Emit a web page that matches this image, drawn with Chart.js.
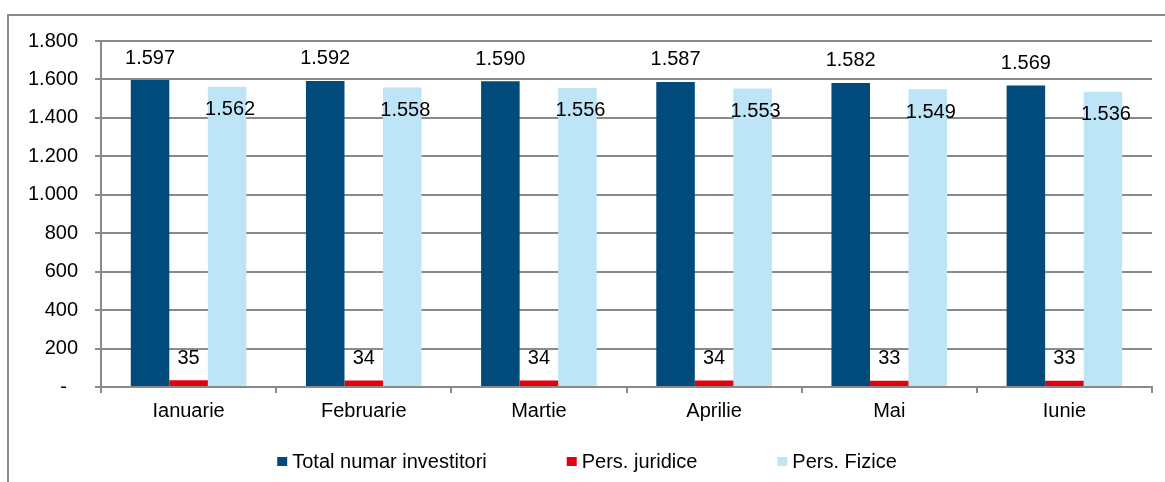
<!DOCTYPE html>
<html>
<head>
<meta charset="utf-8">
<script src="https://cdn.jsdelivr.net/npm/chart.js@4.4.1/dist/chart.umd.min.js"></script>
<style>
  html, body { margin: 0; padding: 0; background: #fff; }
  #wrap { width: 1165px; height: 482px; }
</style>
</head>
<body>
<div id="wrap"><canvas id="myChart" width="1165" height="482"></canvas></div>
<script>
const luni = ['Ianuarie', 'Februarie', 'Martie', 'Aprilie', 'Mai', 'Iunie'];
const totalInvestitori = [1597, 1592, 1590, 1587, 1582, 1569];
const persJuridice = [35, 34, 34, 34, 33, 33];
const persFizice = [1562, 1558, 1556, 1553, 1549, 1536];
const numeSerii = ['Total numar investitori', 'Pers. juridice', 'Pers. Fizice'];
const culori = ['#004a7c', '#e3000f', '#bee4f8'];
const yMax = 1800;
const yPas = 200;

const FONT = '"Liberation Sans", Arial, sans-serif';
const MARIME = 20;

function formatNumar(v) {
  if (v === 0) return '-  ';
  return String(v).replace(/\B(?=(\d{3})+(?!\d))/g, '.');
}

// chenarul exterior (doar sus si stanga se vad)
const chenar = {
  id: 'chenar',
  beforeDraw(chart) {
    const ctx = chart.ctx;
    ctx.save();
    ctx.strokeStyle = '#8a8a8a';
    ctx.lineWidth = 2;
    ctx.strokeRect(8, 15, 1300, 600);
    ctx.restore();
  }
};

// etichetele valorilor
const etichete = {
  id: 'etichete',
  afterDatasetsDraw(chart) {
    const ctx = chart.ctx;
    ctx.save();
    ctx.font = MARIME + 'px ' + FONT;
    ctx.fillStyle = '#000';
    ctx.textAlign = 'center';
    ctx.textBaseline = 'middle';
    chart.data.datasets.forEach(function(ds, i) {
      const meta = chart.getDatasetMeta(i);
      meta.data.forEach(function(bar, j) {
        const dy = i === 2 ? 23 : -22;
        ctx.fillText(formatNumar(ds.data[j]), bar.x + (i === 2 ? 3 : 0), bar.y + dy);
      });
    });
    ctx.restore();
  }
};

// legenda jos
const legenda = {
  id: 'legenda',
  afterDraw(chart) {
    const ctx = chart.ctx;
    ctx.save();
    ctx.font = MARIME + 'px ' + FONT;
    ctx.textBaseline = 'middle';
    ctx.textAlign = 'left';
    const box = 10, gapText = 5, gapItem = 80;
    const items = chart.data.datasets.map(function(ds) {
      return { text: ds.label, color: ds.backgroundColor, w: ctx.measureText(ds.label).width };
    });
    let total = 0;
    items.forEach(function(it, k) { total += box + gapText + it.w + (k ? gapItem : 0); });
    let x = 587 - total / 2;
    const y = 462;
    items.forEach(function(it) {
      ctx.fillStyle = it.color;
      ctx.fillRect(x, y - 5, box, 9);
      ctx.fillStyle = '#000';
      ctx.fillText(it.text, x + box + gapText, y);
      x += box + gapText + it.w + gapItem;
    });
    ctx.restore();
  }
};

const ctx = document.getElementById('myChart').getContext('2d');
const myChart = new Chart(ctx, {
  type: 'bar',
  data: {
    labels: luni,
    datasets: [
      { label: numeSerii[0], data: totalInvestitori, backgroundColor: culori[0] },
      { label: numeSerii[1], data: persJuridice, backgroundColor: culori[1] },
      { label: numeSerii[2], data: persFizice, backgroundColor: culori[2] }
    ]
  },
  options: {
    responsive: false,
    animation: false,
    layout: { padding: { top: 41, right: 13, left: 0, bottom: 0 } },
    datasets: {
      bar: { categoryPercentage: 0.66, barPercentage: 1 }
    },
    plugins: {
      legend: { display: false },
      tooltip: { enabled: false }
    },
    scales: {
      x: {
        offset: true,
        grid: { drawOnChartArea: false, drawTicks: true, tickLength: 6, color: '#8a8a8a', lineWidth: 2, offset: true },
        border: { color: '#8a8a8a', width: 2 },
        ticks: { color: '#000', font: { size: MARIME, family: FONT }, padding: 6 },
        afterFit(scale) { scale.height = 95; }
      },
      y: {
        min: 0,
        max: yMax,
        ticks: {
          stepSize: yPas,
          color: '#000',
          font: { size: MARIME, family: FONT },
          padding: 17,
          callback: function(v) { return formatNumar(v); }
        },
        grid: { color: '#8a8a8a', lineWidth: 2, tickLength: 6 },
        border: { color: '#8a8a8a', width: 2 },
        afterFit(scale) { scale.width = 101; }
      }
    }
  },
  plugins: [chenar, etichete, legenda]
});
</script>
</body>
</html>
